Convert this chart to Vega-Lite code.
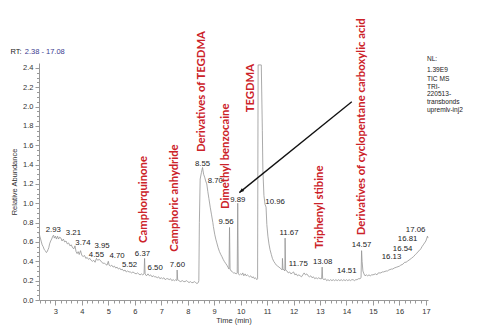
{
  "$schema": "https://vega.github.io/schema/vega-lite/v6.json",
  "width": 389,
  "height": 237,
  "autosize": {"type": "none"},
  "padding": {"left": 39, "top": 63, "right": 50, "bottom": 34},
  "background": "white",
  "config": {
    "view": {"stroke": null},
    "axis": {
      "grid": false,
      "domainColor": "#999999",
      "tickColor": "#999999",
      "labelColor": "#333333",
      "labelFont": "Liberation Sans",
      "labelFontSize": 7.5,
      "titleFont": "Liberation Sans",
      "titleFontSize": 7.5,
      "titleFontWeight": "normal",
      "titleColor": "#333333",
      "labelPadding": 2,
      "labelOverlap": false,
      "labelFlush": false
    }
  },
  "datasets": {
    "trace": [
      {"t":2.38,"v":0.70},{"t":2.41,"v":0.66},{"t":2.44,"v":0.63},{"t":2.47,"v":0.60},{"t":2.50,"v":0.57},{"t":2.54,"v":0.55},{"t":2.58,"v":0.52},{"t":2.62,"v":0.51},{"t":2.66,"v":0.49},{"t":2.69,"v":0.50},{"t":2.72,"v":0.52},{"t":2.75,"v":0.54},{"t":2.78,"v":0.58},{"t":2.82,"v":0.61},{"t":2.86,"v":0.63},{"t":2.90,"v":0.66},{"t":2.93,"v":0.67},{"t":2.96,"v":0.64},{"t":3.00,"v":0.66},{"t":3.04,"v":0.63},{"t":3.08,"v":0.66},{"t":3.12,"v":0.63},{"t":3.16,"v":0.65},{"t":3.21,"v":0.64},{"t":3.25,"v":0.61},{"t":3.30,"v":0.63},{"t":3.35,"v":0.60},{"t":3.40,"v":0.61},{"t":3.45,"v":0.58},{"t":3.50,"v":0.59},{"t":3.55,"v":0.56},{"t":3.60,"v":0.57},{"t":3.65,"v":0.54},{"t":3.70,"v":0.53},{"t":3.74,"v":0.56},{"t":3.78,"v":0.50},{"t":3.82,"v":0.48},{"t":3.86,"v":0.50},{"t":3.90,"v":0.47},{"t":3.95,"v":0.51},{"t":4.00,"v":0.46},{"t":4.05,"v":0.45},{"t":4.10,"v":0.46},{"t":4.15,"v":0.43},{"t":4.20,"v":0.44},{"t":4.25,"v":0.42},{"t":4.30,"v":0.43},{"t":4.35,"v":0.41},{"t":4.40,"v":0.40},{"t":4.45,"v":0.41},{"t":4.50,"v":0.39},{"t":4.55,"v":0.43},{"t":4.60,"v":0.41},{"t":4.65,"v":0.42},{"t":4.70,"v":0.41},{"t":4.75,"v":0.39},{"t":4.80,"v":0.38},{"t":4.85,"v":0.38},{"t":4.90,"v":0.37},{"t":4.95,"v":0.36},{"t":5.00,"v":0.40},{"t":5.03,"v":0.36},{"t":5.08,"v":0.35},{"t":5.13,"v":0.36},{"t":5.18,"v":0.34},{"t":5.23,"v":0.35},{"t":5.28,"v":0.33},{"t":5.33,"v":0.34},{"t":5.38,"v":0.32},{"t":5.43,"v":0.33},{"t":5.48,"v":0.31},{"t":5.52,"v":0.32},{"t":5.58,"v":0.30},{"t":5.63,"v":0.31},{"t":5.68,"v":0.29},{"t":5.73,"v":0.30},{"t":5.78,"v":0.29},{"t":5.83,"v":0.29},{"t":5.88,"v":0.28},{"t":5.93,"v":0.29},{"t":5.98,"v":0.28},{"t":6.05,"v":0.27},{"t":6.10,"v":0.28},{"t":6.15,"v":0.27},{"t":6.20,"v":0.26},{"t":6.25,"v":0.27},{"t":6.30,"v":0.26},{"t":6.35,"v":0.27},{"t":6.37,"v":0.43},{"t":6.39,"v":0.27},{"t":6.44,"v":0.25},{"t":6.50,"v":0.27},{"t":6.55,"v":0.25},{"t":6.60,"v":0.26},{"t":6.65,"v":0.24},{"t":6.70,"v":0.25},{"t":6.75,"v":0.24},{"t":6.80,"v":0.24},{"t":6.85,"v":0.23},{"t":6.90,"v":0.24},{"t":6.95,"v":0.22},{"t":7.00,"v":0.23},{"t":7.05,"v":0.22},{"t":7.10,"v":0.23},{"t":7.15,"v":0.21},{"t":7.20,"v":0.22},{"t":7.25,"v":0.22},{"t":7.30,"v":0.21},{"t":7.35,"v":0.22},{"t":7.40,"v":0.20},{"t":7.45,"v":0.21},{"t":7.50,"v":0.20},{"t":7.55,"v":0.21},{"t":7.59,"v":0.20},{"t":7.60,"v":0.31},{"t":7.62,"v":0.21},{"t":7.67,"v":0.20},{"t":7.72,"v":0.19},{"t":7.80,"v":0.20},{"t":7.85,"v":0.19},{"t":7.90,"v":0.19},{"t":7.95,"v":0.20},{"t":8.00,"v":0.19},{"t":8.05,"v":0.18},{"t":8.10,"v":0.19},{"t":8.15,"v":0.18},{"t":8.20,"v":0.18},{"t":8.25,"v":0.19},{"t":8.30,"v":0.18},{"t":8.35,"v":0.17},{"t":8.40,"v":0.18},{"t":8.42,"v":0.20},{"t":8.44,"v":0.80},{"t":8.47,"v":1.25},{"t":8.52,"v":1.32},{"t":8.56,"v":1.37},{"t":8.60,"v":1.30},{"t":8.64,"v":1.27},{"t":8.68,"v":1.23},{"t":8.72,"v":1.20},{"t":8.76,"v":1.12},{"t":8.80,"v":1.05},{"t":8.85,"v":0.96},{"t":8.90,"v":0.88},{"t":8.95,"v":0.80},{"t":8.97,"v":0.76},{"t":9.02,"v":0.68},{"t":9.06,"v":0.63},{"t":9.10,"v":0.59},{"t":9.15,"v":0.54},{"t":9.20,"v":0.50},{"t":9.25,"v":0.47},{"t":9.29,"v":0.45},{"t":9.34,"v":0.42},{"t":9.38,"v":0.40},{"t":9.43,"v":0.38},{"t":9.48,"v":0.36},{"t":9.52,"v":0.34},{"t":9.56,"v":0.32},{"t":9.58,"v":0.75},{"t":9.60,"v":0.32},{"t":9.64,"v":0.30},{"t":9.69,"v":0.29},{"t":9.73,"v":0.28},{"t":9.78,"v":0.28},{"t":9.83,"v":0.27},{"t":9.87,"v":0.28},{"t":9.89,"v":1.00},{"t":9.91,"v":0.27},{"t":9.95,"v":0.26},{"t":10.00,"v":0.27},{"t":10.04,"v":0.26},{"t":10.08,"v":0.28},{"t":10.12,"v":0.25},{"t":10.17,"v":0.27},{"t":10.21,"v":0.25},{"t":10.25,"v":0.26},{"t":10.29,"v":0.25},{"t":10.34,"v":0.24},{"t":10.38,"v":0.25},{"t":10.43,"v":0.23},{"t":10.48,"v":0.24},{"t":10.52,"v":0.22},{"t":10.56,"v":0.23},{"t":10.61,"v":0.21},{"t":10.64,"v":0.22},{"t":10.66,"v":2.43},{"t":10.78,"v":2.43},{"t":10.82,"v":1.75},{"t":10.84,"v":1.35},{"t":10.88,"v":1.08},{"t":10.92,"v":0.99},{"t":10.96,"v":0.96},{"t":10.99,"v":0.78},{"t":11.03,"v":0.66},{"t":11.07,"v":0.58},{"t":11.11,"v":0.52},{"t":11.16,"v":0.47},{"t":11.20,"v":0.43},{"t":11.25,"v":0.40},{"t":11.30,"v":0.38},{"t":11.35,"v":0.36},{"t":11.40,"v":0.35},{"t":11.45,"v":0.34},{"t":11.49,"v":0.33},{"t":11.54,"v":0.32},{"t":11.57,"v":0.31},{"t":11.58,"v":0.43},{"t":11.60,"v":0.32},{"t":11.64,"v":0.31},{"t":11.67,"v":0.30},{"t":11.68,"v":0.64},{"t":11.70,"v":0.31},{"t":11.75,"v":0.30},{"t":11.80,"v":0.28},{"t":11.85,"v":0.29},{"t":11.90,"v":0.27},{"t":11.95,"v":0.28},{"t":12.00,"v":0.29},{"t":12.05,"v":0.26},{"t":12.10,"v":0.27},{"t":12.15,"v":0.25},{"t":12.20,"v":0.26},{"t":12.25,"v":0.25},{"t":12.30,"v":0.24},{"t":12.35,"v":0.26},{"t":12.40,"v":0.28},{"t":12.45,"v":0.26},{"t":12.50,"v":0.27},{"t":12.55,"v":0.25},{"t":12.60,"v":0.24},{"t":12.65,"v":0.25},{"t":12.70,"v":0.23},{"t":12.75,"v":0.24},{"t":12.80,"v":0.22},{"t":12.85,"v":0.23},{"t":12.90,"v":0.22},{"t":12.95,"v":0.23},{"t":13.00,"v":0.22},{"t":13.06,"v":0.22},{"t":13.08,"v":0.34},{"t":13.10,"v":0.22},{"t":13.15,"v":0.21},{"t":13.20,"v":0.22},{"t":13.25,"v":0.20},{"t":13.30,"v":0.21},{"t":13.35,"v":0.20},{"t":13.40,"v":0.21},{"t":13.45,"v":0.20},{"t":13.50,"v":0.21},{"t":13.55,"v":0.20},{"t":13.60,"v":0.21},{"t":13.65,"v":0.20},{"t":13.70,"v":0.21},{"t":13.75,"v":0.20},{"t":13.80,"v":0.21},{"t":13.85,"v":0.20},{"t":13.90,"v":0.21},{"t":13.95,"v":0.20},{"t":14.00,"v":0.21},{"t":14.05,"v":0.20},{"t":14.10,"v":0.21},{"t":14.15,"v":0.20},{"t":14.20,"v":0.21},{"t":14.25,"v":0.21},{"t":14.30,"v":0.20},{"t":14.35,"v":0.21},{"t":14.40,"v":0.21},{"t":14.45,"v":0.22},{"t":14.51,"v":0.22},{"t":14.55,"v":0.23},{"t":14.57,"v":0.51},{"t":14.59,"v":0.40},{"t":14.62,"v":0.30},{"t":14.66,"v":0.27},{"t":14.70,"v":0.25},{"t":14.75,"v":0.26},{"t":14.80,"v":0.25},{"t":14.85,"v":0.26},{"t":14.90,"v":0.25},{"t":14.95,"v":0.26},{"t":15.00,"v":0.26},{"t":15.10,"v":0.27},{"t":15.15,"v":0.26},{"t":15.20,"v":0.28},{"t":15.30,"v":0.28},{"t":15.35,"v":0.29},{"t":15.40,"v":0.29},{"t":15.50,"v":0.30},{"t":15.55,"v":0.30},{"t":15.60,"v":0.31},{"t":15.70,"v":0.32},{"t":15.75,"v":0.32},{"t":15.80,"v":0.33},{"t":15.90,"v":0.34},{"t":16.00,"v":0.35},{"t":16.05,"v":0.36},{"t":16.13,"v":0.37},{"t":16.20,"v":0.39},{"t":16.25,"v":0.39},{"t":16.30,"v":0.40},{"t":16.40,"v":0.42},{"t":16.45,"v":0.43},{"t":16.54,"v":0.45},{"t":16.60,"v":0.47},{"t":16.65,"v":0.48},{"t":16.70,"v":0.50},{"t":16.75,"v":0.51},{"t":16.81,"v":0.53},{"t":16.85,"v":0.55},{"t":16.90,"v":0.57},{"t":16.95,"v":0.59},{"t":17.00,"v":0.61},{"t":17.06,"v":0.66},{"t":17.08,"v":0.64}
    ],
    "peaks": [
      {"t":2.92,"v":0.72,"label":"2.93"},
      {"t":3.68,"v":0.69,"label":"3.21"},
      {"t":4.04,"v":0.59,"label":"3.74"},
      {"t":4.76,"v":0.56,"label":"3.95"},
      {"t":4.55,"v":0.47,"label":"4.55"},
      {"t":5.33,"v":0.46,"label":"4.70"},
      {"t":5.80,"v":0.36,"label":"5.52"},
      {"t":6.29,"v":0.48,"label":"6.37"},
      {"t":6.77,"v":0.33,"label":"6.50"},
      {"t":7.61,"v":0.36,"label":"7.60"},
      {"t":8.56,"v":1.41,"label":"8.55"},
      {"t":9.04,"v":1.23,"label":"8.70"},
      {"t":9.89,"v":1.03,"label":"9.89"},
      {"t":9.45,"v":0.81,"label":"9.56"},
      {"t":11.30,"v":1.01,"label":"10.96"},
      {"t":11.83,"v":0.69,"label":"11.67"},
      {"t":12.18,"v":0.37,"label":"11.75"},
      {"t":13.10,"v":0.39,"label":"13.08"},
      {"t":14.01,"v":0.30,"label":"14.51"},
      {"t":14.57,"v":0.57,"label":"14.57"},
      {"t":15.70,"v":0.44,"label":"16.13"},
      {"t":16.12,"v":0.53,"label":"16.54"},
      {"t":16.31,"v":0.63,"label":"16.81"},
      {"t":16.61,"v":0.72,"label":"17.06"}
    ],
    "compounds": [
      {"t":6.35,"v":0.59,"name":"Camphorquinone"},
      {"t":7.52,"v":0.50,"name":"Camphoric anhydride"},
      {"t":8.53,"v":1.53,"name":"Derivatives of TEGDMA"},
      {"t":9.45,"v":0.94,"name":"Dimethyl benzocaine"},
      {"t":10.39,"v":1.94,"name":"TEGDMA"},
      {"t":13.00,"v":0.53,"name":"Triphenyl stibine"},
      {"t":14.58,"v":0.67,"name":"Derivatives of cyclopentane carboxylic acid"}
    ],
    "arrow": [
      {"t":14.20,"v":2.05,"t2":9.95,"v2":1.11}
    ],
    "notes": [
      {"t":17.04,"v":2.488,"text":"NL:"},
      {"t":17.04,"v":2.378,"text":"1.39E9"},
      {"t":17.04,"v":2.282,"text":"TIC  MS"},
      {"t":17.04,"v":2.205,"text":"TRI-"},
      {"t":17.04,"v":2.127,"text":"220513-"},
      {"t":17.04,"v":2.050,"text":"transbonds"},
      {"t":17.04,"v":1.964,"text":"upremlv-inj2"}
    ],
    "rtlabel": [{"t":1.30,"v":2.565,"text":"RT:"}],
    "rtrange": [{"t":1.84,"v":2.565,"text":"2.38 - 17.08"}]
  },
  "encoding": {
    "x": {
      "field": "t",
      "type": "quantitative",
      "scale": {"domain": [2.38, 17.08], "nice": false, "zero": false},
      "axis": {
        "title": "Time (min)",
        "titlePadding": 2,
        "values": [2.4,2.6,2.8,3,3.2,3.4,3.6,3.8,4,4.2,4.4,4.6,4.8,5,5.2,5.4,5.6,5.8,6,6.2,6.4,6.6,6.8,7,7.2,7.4,7.6,7.8,8,8.2,8.4,8.6,8.8,9,9.2,9.4,9.6,9.8,10,10.2,10.4,10.6,10.8,11,11.2,11.4,11.6,11.8,12,12.2,12.4,12.6,12.8,13,13.2,13.4,13.6,13.8,14,14.2,14.4,14.6,14.8,15,15.2,15.4,15.6,15.8,16,16.2,16.4,16.6,16.8,17],
        "labelExpr": "abs(datum.value - round(datum.value)) < 0.001 ? format(datum.value, 'd') : ''",
        "tickSize": {"condition": {"test": "abs(datum.value - round(datum.value)) < 0.001", "value": 5}, "value": 3}
      }
    },
    "y": {
      "field": "v",
      "type": "quantitative",
      "scale": {"domain": [0, 2.45], "nice": false},
      "axis": {
        "title": "Relative Abundance",
        "titlePadding": 4,
        "values": [0,0.05,0.1,0.15,0.2,0.25,0.3,0.35,0.4,0.45,0.5,0.55,0.6,0.65,0.7,0.75,0.8,0.85,0.9,0.95,1,1.05,1.1,1.15,1.2,1.25,1.3,1.35,1.4,1.45,1.5,1.55,1.6,1.65,1.7,1.75,1.8,1.85,1.9,1.95,2,2.05,2.1,2.15,2.2,2.25,2.3,2.35,2.4],
        "labelExpr": "abs(datum.value*5 - round(datum.value*5)) < 0.001 ? format(datum.value, '.1f') : ''",
        "tickSize": {"condition": {"test": "abs(datum.value*5 - round(datum.value*5)) < 0.001", "value": 4}, "value": 2.5}
      }
    }
  },
  "layer": [
    {
      "data": {"name": "trace"},
      "mark": {"type": "line", "color": "#949494", "strokeWidth": 0.8, "interpolate": "linear"}
    },
    {
      "data": {"name": "peaks"},
      "mark": {"type": "text", "font": "Liberation Sans", "fontSize": 7.8, "color": "#222222", "align": "center", "baseline": "middle"},
      "encoding": {"text": {"field": "label"}}
    },
    {
      "data": {"name": "compounds"},
      "mark": {"type": "text", "font": "Lato", "fontWeight": "bold", "fontSize": 11.3, "color": "#cc2229", "align": "left", "baseline": "middle", "angle": 270},
      "encoding": {"text": {"field": "name"}}
    },
    {
      "data": {"name": "arrow"},
      "mark": {"type": "rule", "color": "#111111", "strokeWidth": 1.3},
      "encoding": {"x2": {"field": "t2"}, "y2": {"field": "v2"}}
    },
    {
      "data": {"name": "arrow"},
      "mark": {"type": "point", "shape": "M0,0L-0.4,1L0.4,1Z", "filled": true, "color": "#111111", "opacity": 1, "size": 90, "angle": 231},
      "encoding": {"x": {"field": "t2"}, "y": {"field": "v2"}}
    },
    {
      "data": {"name": "notes"},
      "mark": {"type": "text", "font": "Liberation Sans", "fontSize": 6.6, "color": "#222222", "align": "left", "baseline": "middle"},
      "encoding": {"text": {"field": "text"}}
    },
    {
      "data": {"name": "rtlabel"},
      "mark": {"type": "text", "font": "Liberation Sans", "fontSize": 7.5, "color": "#222222", "align": "left", "baseline": "middle"},
      "encoding": {"text": {"field": "text"}}
    },
    {
      "data": {"name": "rtrange"},
      "mark": {"type": "text", "font": "Liberation Sans", "fontSize": 7.5, "color": "#3b3b8f", "align": "left", "baseline": "middle"},
      "encoding": {"text": {"field": "text"}}
    }
  ]
}
